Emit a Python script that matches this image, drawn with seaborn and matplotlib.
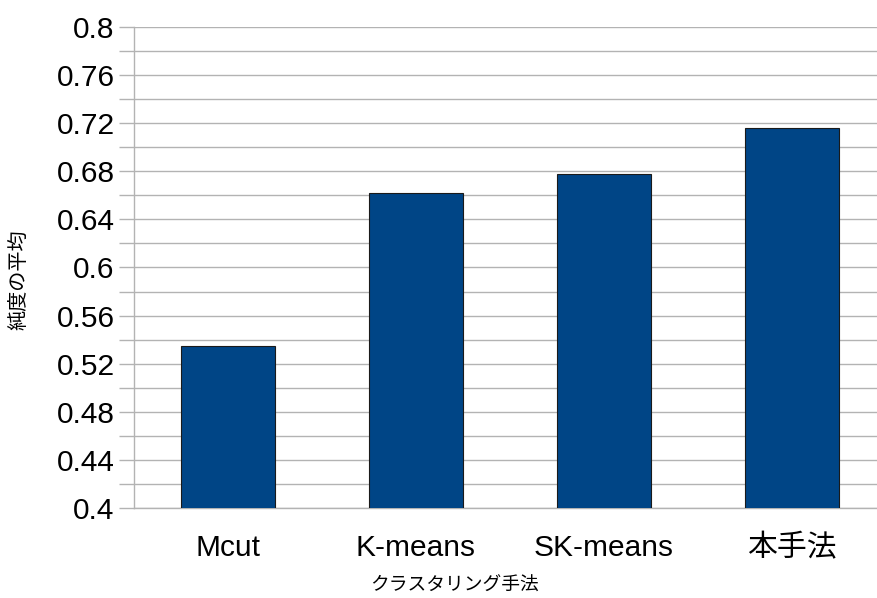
import matplotlib
matplotlib.use("Agg")
import matplotlib.pyplot as plt
import seaborn as sns
import numpy as np
import pandas as pd
from matplotlib.ticker import MultipleLocator, FuncFormatter

# Average purity for each clustering method
methods = ["Mcut", "K-means", "SK-means", "本手法"]
purity = [0.535, 0.662, 0.678, 0.716]

x_title = "クラスタリング手法"
y_title = "純度の平均"

sns.set_theme(style="white")
plt.rcParams["font.family"] = ["Liberation Sans", "Noto Sans CJK JP", "DejaVu Sans"]

df = pd.DataFrame({"method": methods, "purity": purity})

W, H = 877, 598
fig = plt.figure(figsize=(W / 100, H / 100), dpi=100)
ax = fig.add_axes([134 / W, 90 / H, 752 / W, 481 / H])

sns.barplot(data=df, x="method", y="purity", ax=ax, color="#004586",
            saturation=1, width=0.5, edgecolor="#1a1a1a", linewidth=0.8,
            zorder=3)

grid_c = "#b3b3b3"
ax.set_ylim(0.4, 0.8)
ax.set_xlim(-0.5, 3.5)
ax.yaxis.set_major_locator(MultipleLocator(0.04))
ax.yaxis.set_minor_locator(MultipleLocator(0.02))
ax.yaxis.set_major_formatter(FuncFormatter(lambda v, p: f"{round(v, 2):g}"))
ax.grid(axis="y", which="both", color=grid_c, linewidth=1.0, zorder=0)
ax.set_axisbelow(True)

# category separators below the x axis
ax.set_xticks(np.arange(-0.5, 4.0, 1.0), minor=True)
ax.tick_params(axis="x", which="major", length=0, pad=19, labelsize=21.5,
               colors="black")
ax.tick_params(axis="x", which="minor", length=10, width=1, color=grid_c)
ax.tick_params(axis="y", which="both", length=11, width=1, color=grid_c,
               pad=3, labelsize=21.5, left=True)
ax.tick_params(axis="y", which="major", labelcolor="black")

for side in ["top", "right"]:
    ax.spines[side].set_visible(False)
for side in ["left", "bottom"]:
    ax.spines[side].set_color(grid_c)
    ax.spines[side].set_linewidth(1.0)

ax.set_xlabel(x_title, fontsize=13.5, color="black", va="center")
ax.set_ylabel(y_title, fontsize=14.5, color="black", va="center")

# place the titles in pixel terms of the figure
to_ax = fig.transFigure + ax.transAxes.inverted()
ax.xaxis.set_label_coords(*to_ax.transform((455 / W, 1 - 586 / H)))
ax.yaxis.set_label_coords(*to_ax.transform((19 / W, 1 - 280 / H)))

fig.savefig("out.png", dpi=100)
